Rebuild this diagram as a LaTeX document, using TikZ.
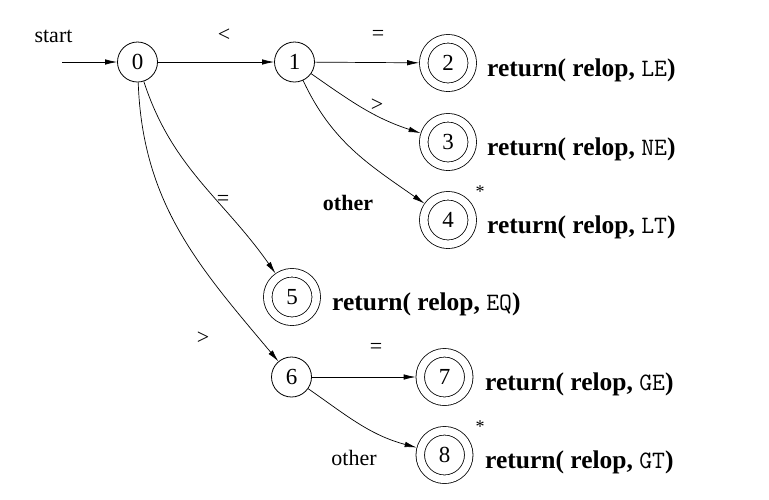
\documentclass[tikz,border=0pt]{standalone}
\usepackage{fontspec}
\setmainfont{Liberation Serif}
\usetikzlibrary{arrows.meta}
\newcommand{\rettext}[1]{return( relop, {\fontsize{25}{28}\selectfont\ttfamily\mdseries #1})}
\begin{document}
\begin{tikzpicture}[x=1pt,y=-1pt,
  every node/.style={font=\fontsize{22}{26}\selectfont},
  state/.style={circle,draw,line width=0.8pt,minimum size=40pt,inner sep=0pt,font=\fontsize{23}{26}\selectfont},
  accept/.style={circle,draw,line width=0.8pt,minimum size=48.5pt,inner sep=0pt,double,double distance=7.7pt,outer sep=4.6pt,font=\fontsize{23}{26}\selectfont},
  edge/.style={draw,line width=0.7pt,-{Latex[length=12pt,width=5.5pt]}},
  lbl/.style={inner sep=0pt},
  ret/.style={anchor=base west,inner sep=0pt,font=\fontsize{25.5}{30}\selectfont\bfseries}]
\useasboundingbox (0,0) rectangle (769,499);
\node[state] (n0) at (137.5,62) {0};
\node[state] (n1) at (294.5,62) {1};
\node[accept] (n2) at (448,63) {2};
\node[accept] (n3) at (448,142) {3};
\node[accept] (n4) at (448,220) {4};
\node[accept] (n5) at (292,297) {5};
\node[state] (n6) at (291.5,377) {6};
\node[accept] (n7) at (444.5,377) {7};
\node[accept] (n8) at (444.5,455) {8};
\coordinate (s) at (62,62);
\node[lbl,anchor=base] (tstart) at (53.5,42) {start};
\path[edge] (s) -- (n0);
\path[edge] (n0) -- (n1);
\path[edge] (n1) -- (n2);
\path[edge] (n1) to[out=-35,in=162] (n3);
\path[edge] (n1) to[out=-65,in=145] (n4);
\path[edge] (n0) to[out=-72,in=125] (n5);
\path[edge] (n0) to[out=-88,in=130] (n6);
\path[edge] (n6) -- (n7);
\path[edge] (n6) to[out=-35,in=165] (n8);
\node[lbl] (l01) at (224,35) {<};
\node[lbl] (l12) at (378,35) {=};
\node[lbl] (l13) at (377,105) {>};
\node[lbl,anchor=base,font=\fontsize{22}{26}\selectfont\bfseries] (l14) at (348,210) {other};
\node[lbl] (l05) at (223,200) {=};
\node[lbl] (l06) at (203,338) {>};
\node[lbl] (l67) at (376,348) {=};
\node[lbl,anchor=base] (l68) at (354,465) {other};
\node[lbl,font=\fontsize{18}{20}\selectfont] (st4) at (480,192) {*};
\node[lbl,font=\fontsize{18}{20}\selectfont] (st8) at (480,427) {*};
\node[ret] (r2) at (487,76.5) {\rettext{LE}};
\node[ret] (r3) at (487,155.5) {\rettext{NE}};
\node[ret] (r4) at (487,233.5) {\rettext{LT}};
\node[ret] (r5) at (332,310.5) {\rettext{EQ}};
\node[ret] (r7) at (485,390.5) {\rettext{GE}};
\node[ret] (r8) at (485,468.5) {\rettext{GT}};
\end{tikzpicture}
\end{document}
